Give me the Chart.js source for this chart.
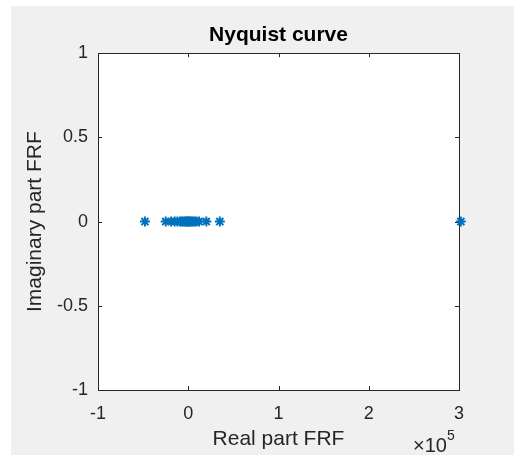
<!DOCTYPE html>
<html>
<head>
<meta charset="utf-8">
<script src="https://cdn.jsdelivr.net/npm/chart.js@4/dist/chart.umd.min.js"></script>
<style>
  html, body { margin: 0; padding: 0; background: #ffffff; }
  canvas { display: block; }
</style>
</head>
<body>
<canvas id="nyquist" width="514" height="455"></canvas>
<script>
// data (real part in units of 1, shown as x10^5)
const realPart = [-48000, -25000, -19000, -15000, -12000, -9000, -7000, -5000, -3500, -2000, -1000, 0,
  1000, 2000, 3500, 5000, 7000, 9000, 12000, 20000, 35000, 302000];
const imagPart = [0, 0, 0, 0, 0, 0, 0, 0, 0, 0, 0, 0, 0, 0, 0, 0, 0, 0, 0, 0, 0, 0];
const xTicks = [-100000, 0, 100000, 200000, 300000];
const yTicks = [-1, -0.5, 0, 0.5, 1];

const FONT = '"Liberation Sans", Arial, Helvetica, sans-serif';
const AXIS = '#262626';

const points = realPart.map((x, i) => ({ x: x, y: imagPart[i] }));

// figure background + axes box with inward ticks, like MATLAB
const matlabFrame = {
  id: 'matlabFrame',
  beforeDraw(chart) {
    const { ctx, chartArea: a } = chart;
    ctx.save();
    ctx.fillStyle = '#ffffff';
    ctx.fillRect(0, 0, chart.width, chart.height);
    ctx.fillStyle = '#f0f0f0';
    ctx.fillRect(11, 6, chart.width - 11, chart.height - 6);
    ctx.fillStyle = '#ffffff';
    ctx.fillRect(a.left, a.top, a.right - a.left, a.bottom - a.top);
    ctx.restore();
  },
  beforeDatasetsDraw(chart) {
    const { ctx, chartArea: a, scales } = chart;
    ctx.save();
    ctx.strokeStyle = AXIS;
    ctx.lineWidth = 1;
    ctx.beginPath();
    xTicks.forEach(v => {
      const px = Math.round(scales.x.getPixelForValue(v)) + 0.5;
      ctx.moveTo(px, a.bottom); ctx.lineTo(px, a.bottom - 4);
      ctx.moveTo(px, a.top); ctx.lineTo(px, a.top + 4);
    });
    yTicks.forEach(v => {
      const py = Math.round(scales.y.getPixelForValue(v)) + 0.5;
      ctx.moveTo(a.left, py); ctx.lineTo(a.left + 4, py);
      ctx.moveTo(a.right, py); ctx.lineTo(a.right - 4, py);
    });
    ctx.stroke();
    ctx.strokeRect(Math.round(a.left) + 0.5, Math.round(a.top) + 0.5,
      Math.round(a.right - a.left), Math.round(a.bottom - a.top));
    ctx.restore();
  },
  afterDraw(chart) {
    const { ctx } = chart;
    ctx.save();
    // exponent label
    ctx.fillStyle = AXIS;
    ctx.textBaseline = 'alphabetic';
    ctx.textAlign = 'left';
    ctx.font = '20px ' + FONT;
    ctx.fillText('\u00d710', 413, 452);
    ctx.font = '14px ' + FONT;
    ctx.fillText('5', 447, 440);
    ctx.restore();
  }
};

new Chart(document.getElementById('nyquist').getContext('2d'), {
  type: 'scatter',
  data: {
    datasets: [{
      data: points,
      clip: false,
      pointStyle: 'star',
      radius: 5,
      hoverRadius: 5,
      borderWidth: 2,
      borderColor: '#0072BD',
      backgroundColor: '#0072BD'
    }]
  },
  options: {
    responsive: false,
    animation: false,
    layout: { padding: { left: 0, top: 6, right: 55, bottom: 0 } },
    plugins: {
      legend: { display: false },
      tooltip: { enabled: false },
      title: {
        display: true,
        text: 'Nyquist curve',
        fullSize: false,
        color: '#000000',
        font: { family: FONT, size: 21, weight: 'bold' },
        padding: { top: 17, bottom: 5 }
      }
    },
    scales: {
      x: {
        type: 'linear',
        min: -100000,
        max: 300000,
        afterFit: (s) => { s.height = 65; },
        afterBuildTicks: (s) => { s.ticks = xTicks.map(v => ({ value: v })); },
        grid: { display: false, drawTicks: false },
        border: { display: false },
        ticks: {
          color: AXIS,
          padding: 13,
          maxRotation: 0,
          font: { family: FONT, size: 18 },
          callback: (v) => String(v / 100000)
        },
        title: {
          display: true,
          text: 'Real part FRF',
          color: AXIS,
          font: { family: FONT, size: 21 },
          padding: { top: 0, bottom: 3 }
        }
      },
      y: {
        type: 'linear',
        min: -1,
        max: 1,
        afterFit: (s) => { s.width = 98; },
        afterBuildTicks: (s) => { s.ticks = yTicks.map(v => ({ value: v })); },
        grid: { display: false, drawTicks: false },
        border: { display: false },
        ticks: {
          color: AXIS,
          padding: 10,
          font: { family: FONT, size: 18 },
          callback: (v) => String(v)
        },
        title: {
          display: true,
          text: 'Imaginary part FRF',
          color: AXIS,
          font: { family: FONT, size: 21 },
          padding: { top: 23, bottom: 0 }
        }
      }
    }
  },
  plugins: [matlabFrame]
});
</script>
</body>
</html>
